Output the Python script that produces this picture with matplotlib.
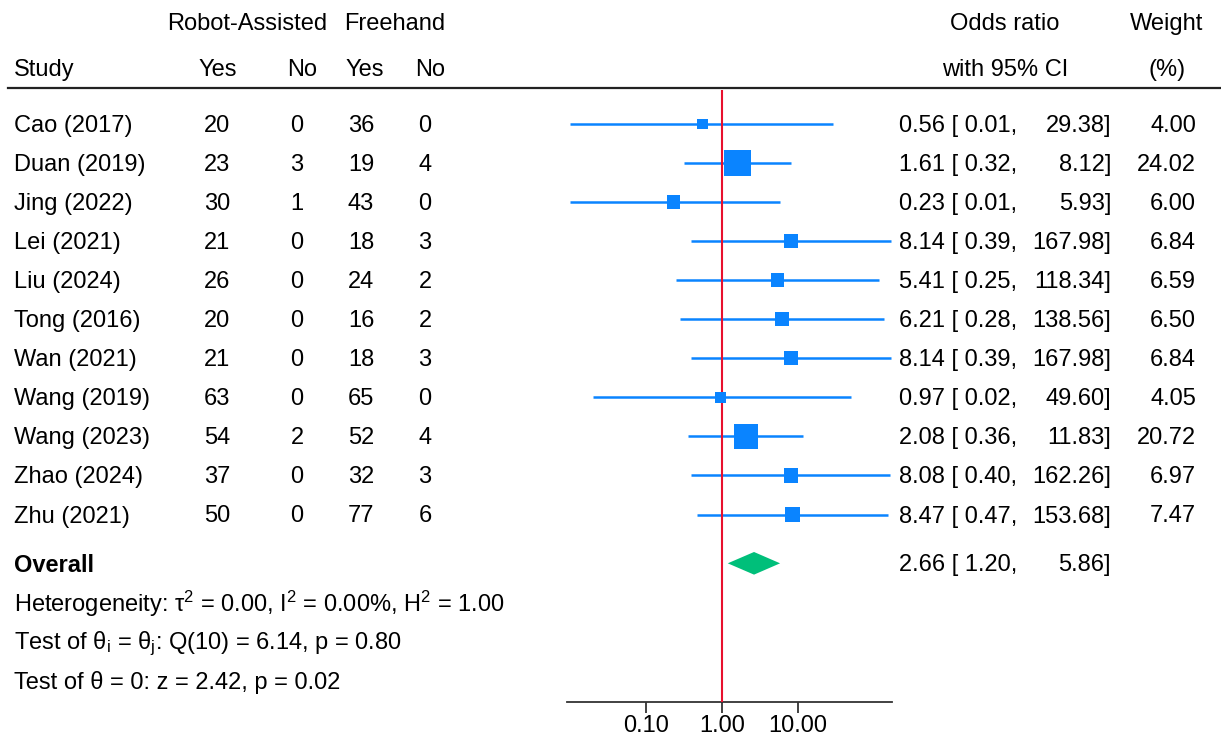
import matplotlib
matplotlib.use('Agg')
import matplotlib.pyplot as plt
import matplotlib.transforms as mtransforms
import numpy as np

plt.rcParams['font.family'] = ['Liberation Sans', 'DejaVu Sans']
plt.rcParams['mathtext.fontset'] = 'custom'
plt.rcParams['mathtext.rm'] = 'Liberation Sans'
plt.rcParams['mathtext.it'] = 'Liberation Sans:italic'

# --- data ---
studies = ['Cao (2017)', 'Duan (2019)', 'Jing (2022)', 'Lei (2021)', 'Liu (2024)',
           'Tong (2016)', 'Wan (2021)', 'Wang (2019)', 'Wang (2023)', 'Zhao (2024)',
           'Zhu (2021)']
robot_yes = [20, 23, 30, 21, 26, 20, 21, 63, 54, 37, 50]
robot_no = [0, 3, 1, 0, 0, 0, 0, 0, 2, 0, 0]
free_yes = [36, 19, 43, 18, 24, 16, 18, 65, 52, 32, 77]
free_no = [0, 4, 0, 3, 2, 2, 3, 0, 4, 3, 6]
odds = [0.56, 1.61, 0.23, 8.14, 5.41, 6.21, 8.14, 0.97, 2.08, 8.08, 8.47]
ci_low = [0.01, 0.32, 0.01, 0.39, 0.25, 0.28, 0.39, 0.02, 0.36, 0.40, 0.47]
ci_high = [29.38, 8.12, 5.93, 167.98, 118.34, 138.56, 167.98, 49.60, 11.83, 162.26, 153.68]
weights = [4.00, 24.02, 6.00, 6.84, 6.59, 6.50, 6.84, 4.05, 20.72, 6.97, 7.47]
overall = (2.66, 1.20, 5.86)
stats_lines = [
    r'Heterogeneity: τ$^2$ = 0.00, I$^2$ = 0.00%, H$^2$ = 1.00',
    r'Test of θ$_\mathrm{i}$ = θ$_\mathrm{j}$: Q(10) = 6.14, p = 0.80',
    r'Test of θ = 0: z = 2.42, p = 0.02',
]
xticks = [0.1, 1, 10]

BLUE = '#0a84ff'
RED = '#e8102e'
GREEN = '#00bf7a'
FS = 17
W, H = 1221, 738

fig = plt.figure(figsize=(W / 100, H / 100), dpi=100)

# forest panel, placed in pixels
left_px, right_px, top_px, bot_px = 567, 892, 90, 702
ax = fig.add_axes([left_px / W, 1 - bot_px / H, (right_px - left_px) / W, (bot_px - top_px) / H])
row_h = 39.05
y0_px = 124
ax.set_ylim((bot_px - y0_px) / row_h, (top_px - y0_px) / row_h)
ax.set_xscale('log')
ax.set_xlim(0.0092, 174)

rows = np.arange(len(studies))
y_overall = 11.25

# CI lines and weighted squares
for i in rows:
    ax.plot([ci_low[i], ci_high[i]], [i, i], color=BLUE, lw=1.8, zorder=2, solid_capstyle='butt')
side_px = 26.5 * np.sqrt(np.array(weights) / 24.02)
ax.scatter(odds, rows, marker='s', s=(side_px * 0.72) ** 2, color=BLUE, linewidths=0, zorder=4)

ax.axvline(1, color=RED, lw=1.5, zorder=3)

# overall diamond
est, lo, hi = overall
dh = 0.29
ax.fill([lo, est, hi, est], [y_overall, y_overall - dh, y_overall, y_overall + dh],
        color=GREEN, lw=0, zorder=4)

for s in ['top', 'left', 'right']:
    ax.spines[s].set_visible(False)
ax.spines['bottom'].set_linewidth(1.3)
ax.spines['bottom'].set_color('#333333')
ax.set_yticks([])
ax.set_xticks(xticks)
ax.set_xticklabels(['%.2f' % t for t in xticks], fontsize=FS)
ax.minorticks_off()
ax.tick_params(axis='x', length=8, width=1.3, color='#333333', pad=1.5)
ax.patch.set_alpha(0)

# text columns: x in figure pixels, y in row units
tr = mtransforms.blended_transform_factory(fig.transFigure, ax.transData)
NUDGE = 2 / row_h


def put(xpx, y, s, ha='left', **kw):
    fig.text(xpx / W, y + NUDGE, s, ha=ha, va='center', fontsize=FS, transform=tr, **kw)


def yrow(px):
    return (px - y0_px) / row_h


# header
put(247, yrow(22), 'Robot-Assisted', ha='center')
put(395, yrow(22), 'Freehand', ha='center')
put(1005, yrow(22), 'Odds ratio', ha='center')
put(1167, yrow(22), 'Weight', ha='center')
put(14, yrow(68), 'Study')
put(218, yrow(68), 'Yes', ha='center')
put(302, yrow(68), 'No', ha='center')
put(365, yrow(68), 'Yes', ha='center')
put(430, yrow(68), 'No', ha='center')
put(1005, yrow(68), 'with 95% CI', ha='center')
put(1167, yrow(68), '(%)', ha='center')
fig.add_artist(plt.Line2D([8 / W, 1220 / W], [1 - 88 / H, 1 - 88 / H], color='#222222', lw=1.6))

for i in rows:
    put(14, i, studies[i])
    put(217, i, str(robot_yes[i]), ha='center')
    put(297, i, str(robot_no[i]), ha='center')
    put(361, i, str(free_yes[i]), ha='center')
    put(425, i, str(free_no[i]), ha='center')
    put(899, i, '%.2f [ %.2f,' % (odds[i], ci_low[i]))
    put(1111, i, '%.2f]' % ci_high[i], ha='right')
    put(1196, i, '%.2f' % weights[i], ha='right')

put(14, y_overall, 'Overall', fontweight='bold')
put(899, y_overall, '%.2f [ %.2f,' % (est, lo))
put(1111, y_overall, '%.2f]' % hi, ha='right')

for k, line in enumerate(stats_lines):
    put(14, y_overall + 1 + k, line)

fig.savefig('out.png', dpi=100)
